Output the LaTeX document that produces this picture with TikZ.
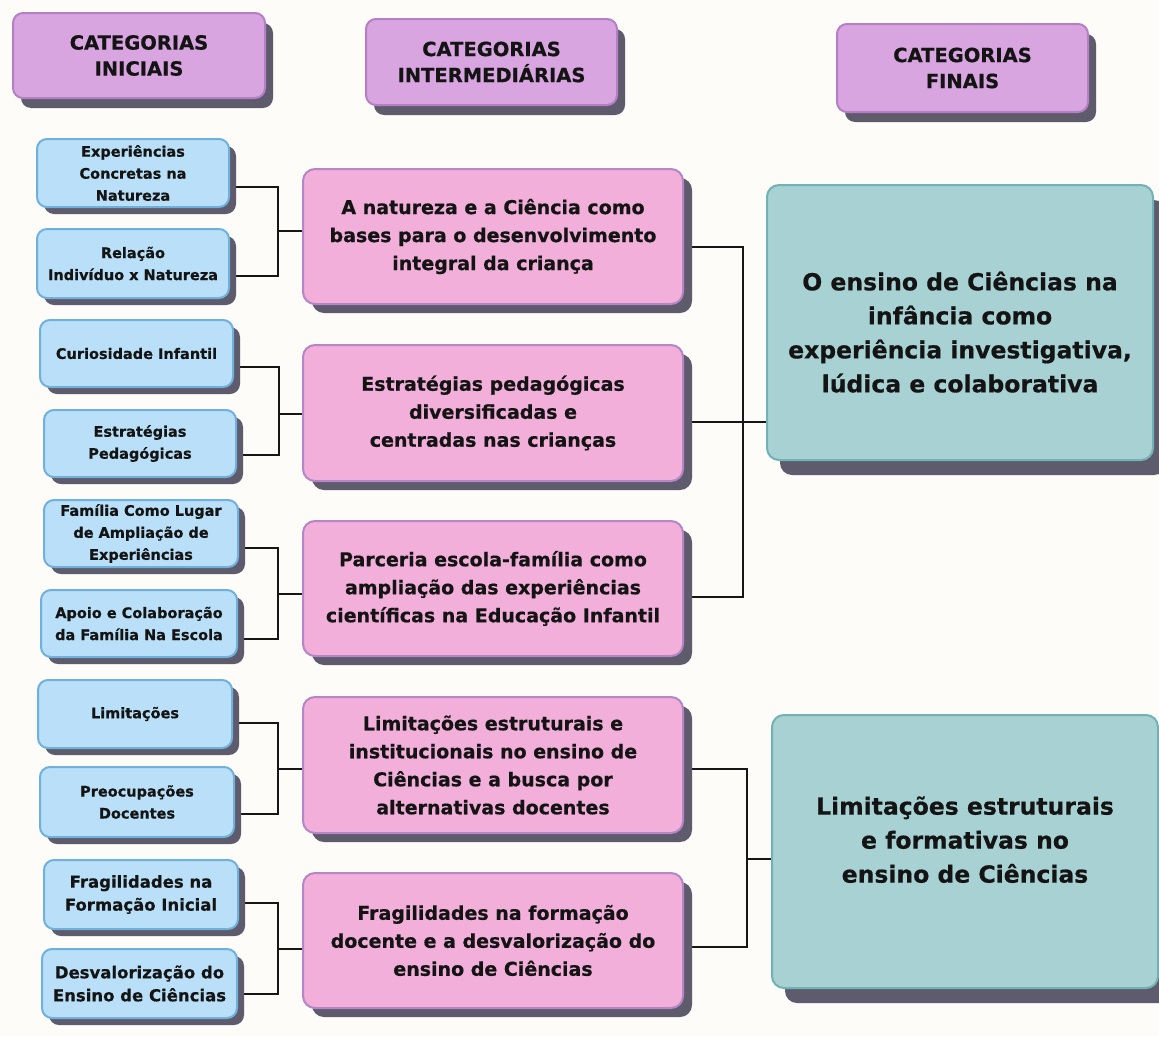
\documentclass[tikz,border=0pt]{standalone}
\usepackage{fontspec}
\setmainfont{DejaVu Sans}[BoldFeatures={FakeBold=0.6}]
\usetikzlibrary{shadows,backgrounds}
\definecolor{bgc}{HTML}{FDFCF8}
\definecolor{txtc}{HTML}{141414}
\definecolor{shadowc}{HTML}{5E5C6C}
\definecolor{hdrfill}{HTML}{D8A5E1}
\definecolor{hdrdraw}{HTML}{B47FC4}
\definecolor{bluefill}{HTML}{B9E0F8}
\definecolor{bluedraw}{HTML}{70B0DC}
\definecolor{pinkfill}{HTML}{F2AFDA}
\definecolor{pinkdraw}{HTML}{B585C7}
\definecolor{tealfill}{HTML}{A8D1D3}
\definecolor{tealdraw}{HTML}{72B2B5}
\definecolor{linec}{HTML}{161616}
\tikzset{
  boxbase/.style={rounded corners=10pt, line width=2pt, align=center, text=txtc, inner sep=0pt},
  hdrbox/.style={boxbase, fill=hdrfill, draw=hdrdraw,
    drop shadow={shadow xshift=8pt, shadow yshift=-10pt, fill=shadowc, opacity=1},
    font=\fontsize{19.5}{26}\selectfont\bfseries},
  bluebox/.style={boxbase, fill=bluefill, draw=bluedraw,
    drop shadow={shadow xshift=7pt, shadow yshift=-7pt, fill=shadowc, opacity=1},
    font=\fontsize{14.5}{22}\selectfont\bfseries},
  bigblue/.style={bluebox, font=\fontsize{16.5}{23}\selectfont\bfseries},
  pinkbox/.style={boxbase, rounded corners=12pt, fill=pinkfill, draw=pinkdraw,
    minimum width=380pt,
    drop shadow={shadow xshift=9pt, shadow yshift=-9pt, fill=shadowc, opacity=1},
    font=\fontsize{19}{28}\selectfont\bfseries},
  tealbox/.style={boxbase, rounded corners=12pt, fill=tealfill, draw=tealdraw,
    minimum width=386pt,
    drop shadow={shadow xshift=13pt, shadow yshift=-15pt, fill=shadowc, opacity=1},
    font=\fontsize{23.5}{34}\selectfont\bfseries},
  conn/.style={line width=2pt, draw=linec}
}
\begin{document}
\begin{tikzpicture}[x=1pt,y=-1pt]
\begin{scope}[on background layer]
\fill[bgc] (0,0) rectangle (1159,1036);
\end{scope}
\useasboundingbox (0,0) rectangle (1159,1036);

% headers
\node[hdrbox, minimum width=252pt, minimum height=85pt] (h1) at (139,55.5) {CATEGORIAS\\INICIAIS};
\node[hdrbox, minimum width=251pt, minimum height=86pt] (h2) at (491.5,62) {CATEGORIAS\\INTERMEDIÁRIAS};
\node[hdrbox, minimum width=251pt, minimum height=88pt] (h3) at (962.5,68) {CATEGORIAS\\FINAIS};

% initial categories
\node[bluebox, minimum width=192pt, minimum height=68pt] (b1) at (133,173) {Experiências\\Concretas na\\Natureza};
\node[bluebox, minimum width=192pt, minimum height=69pt] (b2) at (133,263.5) {Relação\\Indivíduo x Natureza};
\node[bluebox, minimum width=193pt, minimum height=67pt] (b3) at (136.5,353.5) {Curiosidade Infantil};
\node[bluebox, minimum width=192pt, minimum height=67pt] (b4) at (140,443.5) {Estratégias\\Pedagógicas};
\node[bluebox, minimum width=194pt, minimum height=67pt] (b5) at (141,533.5) {Família Como Lugar\\de Ampliação de\\Experiências};
\node[bluebox, minimum width=196pt, minimum height=67pt] (b6) at (139,623.5) {Apoio e Colaboração\\da Família Na Escola};
\node[bluebox, minimum width=194pt, minimum height=68pt] (b7) at (135,714) {Limitações};
\node[bluebox, minimum width=194pt, minimum height=70pt] (b8) at (137,802) {Preocupações\\Docentes};
\node[bigblue, minimum width=194pt, minimum height=69pt] (b9) at (141,894.5) {Fragilidades na\\Formação Inicial};
\node[bigblue, minimum width=195pt, minimum height=69pt] (b10) at (139.5,983.5) {Desvalorização do\\Ensino de Ciências};

% intermediate categories
\node[pinkbox, minimum height=135pt] (p1) at (493,236.5) {A natureza e a Ciência como\\bases para o desenvolvimento\\integral da criança};
\node[pinkbox, minimum height=136pt] (p2) at (493,413) {Estratégias pedagógicas\\diversificadas e\\centradas nas crianças};
\node[pinkbox, minimum height=135pt] (p3) at (493,588.5) {Parceria escola-família como\\ampliação das experiências\\científicas na Educação Infantil};
\node[pinkbox, minimum height=136pt] (p4) at (493,765) {Limitações estruturais e\\institucionais no ensino de\\Ciências e a busca por\\alternativas docentes};
\node[pinkbox, minimum height=135pt] (p5) at (493,940.5) {Fragilidades na formação\\docente e a desvalorização do\\ensino de Ciências};

% final categories
\node[tealbox, minimum height=275pt] (t1) at (960,322.5) {\rule{0pt}{38pt}O ensino de Ciências na\\infância como\\experiência investigativa,\\lúdica e colaborativa};
\node[tealbox, minimum height=273pt] (t2) at (965,851.5) {Limitações estruturais\\e formativas no\\ensino de Ciências\rule[-24pt]{0pt}{0pt}};

% junction points
\coordinate (j1) at (278,231);
\coordinate (j2) at (279,414);
\coordinate (j3) at (278,594);
\coordinate (j4) at (278,769);
\coordinate (j5) at (278,949);
\coordinate (k1) at (743,422);
\coordinate (k2) at (747,859);

\begin{scope}[on background layer]
\draw[conn] ([yshift=-14pt]b1.east) -| (j1) |- ([yshift=-12.5pt]b2.east);
\draw[conn] (j1) -- (j1 -| p1.west);
\draw[conn] ([yshift=-13.5pt]b3.east) -| (j2) |- ([yshift=-11.5pt]b4.east);
\draw[conn] (j2) -- (j2 -| p2.west);
\draw[conn] ([yshift=-14.5pt]b5.east) -| (j3) |- ([yshift=-15.5pt]b6.east);
\draw[conn] (j3) -- (j3 -| p3.west);
\draw[conn] ([yshift=-9pt]b7.east) -| (j4) |- ([yshift=-12pt]b8.east);
\draw[conn] (j4) -- (j4 -| p4.west);
\draw[conn] ([yshift=-8.5pt]b9.east) -| (j5) |- ([yshift=-10.5pt]b10.east);
\draw[conn] (j5) -- (j5 -| p5.west);
\draw[conn] ([yshift=-10.5pt]p1.east) -| (k1) |- ([yshift=-8.5pt]p3.east);
\draw[conn] ([yshift=-9pt]p2.east) -- (k1 -| t1.west);
\draw[conn] ([yshift=-4pt]p4.east) -| (k2) |- ([yshift=-6.5pt]p5.east);
\draw[conn] (k2) -- (k2 -| t2.west);
\end{scope}
\end{tikzpicture}
\end{document}
